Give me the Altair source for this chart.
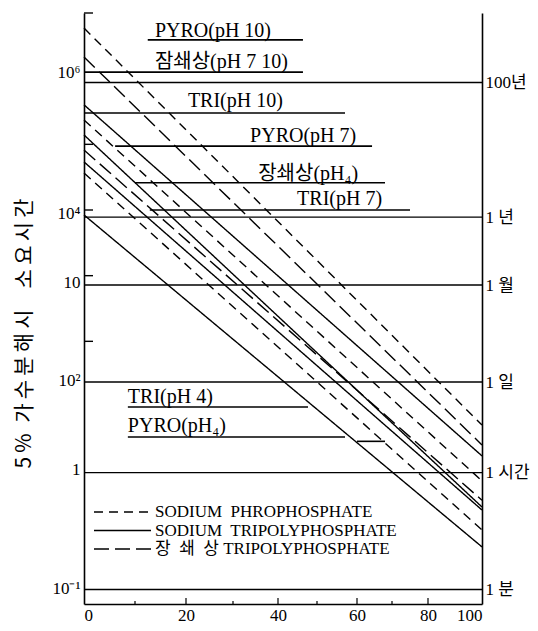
import altair as alt
import pandas as pd
import math

# ---------------- data ----------------
# x axis: temperature (°C); the printed axis is not linear, tick positions read off the picture
x_ticks = [0, 10, 20, 30, 40, 50, 60, 70, 80, 90, 100]
x_tick_px = [0, 51, 102, 149, 194, 233, 273, 308, 344, 371, 398]
x_labels = [0, 20, 40, 60, 80, 100]
x_minor = [10, 30, 50, 70]
x_major = [20, 40, 60, 80]

# hydrolysis lines (hours needed for 5 % hydrolysis) at 0 °C and 100 °C
line_id = ["PYRO10", "LONG7_10", "TRI10", "PYRO7", "TRI_b", "LONG4", "TRI7", "PYRO4", "TRI4"]
line_kind = ["pyro", "long", "tri", "pyro", "tri", "long", "tri", "pyro", "tri"]
line_t0 = [0, 0, 0, 0, 0, 0, 0, 0, 0]
line_t1 = [100, 100, 100, 100, 100, 100, 100, 100, 100]
line_h0 = [5.9e6, 2.14e6, 4.0e5, 2.35e5, 1.39e5, 8.2e4, 5.4e4, 3.66e4, 8.4e3]
line_h1 = [5.3, 2.64, 1.8, 0.75, 0.30, 0.38, 0.27, 0.134, 0.074]

kind_names = ["pyro", "tri", "long"]
kind_text = ["SODIUM\u00a0 PHROPHOSPHATE", "SODIUM\u00a0 TRIPOLYPHOSPHATE",
             "장\u00a0 쇄\u00a0 상 TRIPOLYPHOSPHATE"]
kind_dash = [[9, 6], [1, 0], [15, 6]]

# horizontal reference lines (hours) and right-hand labels
ref_hours = [876000, 7800, 720, 24, 1, 1 / 60]
ref_labels = ["100년", "1 년", "1 월", "1 일", "1 시간", "1 분"]

# left-hand labels as printed
left_vals = [1.22e6, 9000, 775, 25, 1.1, 0.0175]
left_labels = ["10⁶", "10⁴", "10", "10²", "1", "10⁻¹"]
left_stubs = [1e7, 1e5, 1e4, 1e3, 1e2]

# curve labels with their underlines
ann_text = ["PYRO(pH 10)", "잠쇄상(pH 7 10)", "TRI(pH 10)", "PYRO(pH 7)",
            "장쇄상(pH₄)", "TRI(pH 7)", "TRI(pH 4)", "PYRO(pH₄)"]
ann_t = [13.9, 13.9, 20.4, 33.8, 35.6, 44.9, 8.6, 8.6]
ann_h = [4.3e6, 1.46e6, 3.7e5, 1.09e5, 2.86e4, 1.19e4, 11.5, 4.2]
ul_t0 = [12.5, 0, 0, 6.1, 10, 12.9, 8.6, 8.6, 60]
ul_t1 = [46.4, 46.4, 57, 64.3, 68, 75, 47.7, 57, 68]
ul_h = [3.9e6, 1.26e6, 3.0e5, 9.4e4, 2.6e4, 1.0e4, 10, 3.5, 3.0]

# ---------------- tables ----------------
rows = []
for i, lid in enumerate(line_id):
    k = line_kind[i]
    rows.append({"id": lid, "kind": k, "t": line_t0[i], "h": line_h0[i]})
    rows.append({"id": lid, "kind": k, "t": line_t1[i], "h": line_h1[i]})
lines_df = pd.DataFrame(rows)
ref_df = pd.DataFrame({"h": ref_hours, "lab": ref_labels})
ann_df = pd.DataFrame({"txt": ann_text, "t": ann_t, "h": ann_h})
ul_df = pd.DataFrame({"t0": ul_t0, "t1": ul_t1, "h": ul_h})
stub_df = pd.DataFrame({"h": left_stubs})
minor_df = pd.DataFrame({"t": x_minor})
major_df = pd.DataFrame({"t": x_major})

W, H = 398, 591
SERIF = "Liberation Serif"
KFONT = "Liberation Serif, Noto Sans CJK KR"
stroke = "black"

xs = alt.Scale(domain=x_ticks, range=x_tick_px)
ys = alt.Scale(type="log", domain=[0.01, 1e7])


def expr_map(vals, labs):
    e = "''"
    for v, l in zip(vals, labs):
        e = f"abs(log(datum.value)/LN10 - {math.log10(v):.5f}) < 0.01 ? '{l}' : " + e
    return e


x_axis = alt.Axis(values=x_labels, ticks=False, grid=False, title=None,
                  labelFont=SERIF, labelFontSize=17, labelPadding=3,
                  domainColor="black", domainWidth=1.6, labelColor="black")
title_txt = "5\u2009%\u2002가\u2009수\u2009분\u2009해\u2009시\u2003소\u2009요\u2009시\u2009간"
left_axis = alt.Axis(values=left_vals, labelExpr=expr_map(left_vals, left_labels),
                     ticks=False, tickSize=0, grid=False, labelFont=SERIF, labelFontSize=17,
                     labelPadding=4, labelColor="black", domainColor="black", domainWidth=1.6,
                     title=title_txt, titleFont="Noto Sans CJK KR",
                     titleFontSize=21, titleFontWeight="normal", titleColor="black",
                     titleX=-60, titleY=320, titleBaseline="middle")
right_axis = alt.Axis(orient="right", values=ref_hours, labelExpr=expr_map(ref_hours, ref_labels),
                      ticks=False, tickSize=0, grid=False, labelFont=KFONT, labelFontSize=17,
                      labelPadding=3, labelColor="black", domainColor="black", domainWidth=1.6,
                      title=None)

layers = []
for k, d in zip(kind_names, kind_dash):
    sub = lines_df[lines_df["kind"] == k]
    layers.append(
        alt.Chart(sub).mark_line(color=stroke, strokeWidth=1.4, strokeDash=d).encode(
            x=alt.X("t:Q", scale=xs, axis=x_axis),
            y=alt.Y("h:Q", scale=ys, axis=left_axis if k == "pyro" else None),
            detail="id:N",
        )
    )

refs = alt.Chart(ref_df).mark_rule(color=stroke, strokeWidth=1.4).encode(
    y=alt.Y("h:Q", scale=ys, axis=right_axis)
)

ul = alt.Chart(ul_df).mark_rule(color=stroke, strokeWidth=1.6).encode(
    x=alt.X("t0:Q", scale=xs), x2="t1:Q", y=alt.Y("h:Q", scale=ys, axis=None)
)

ann = alt.Chart(ann_df).mark_text(align="left", baseline="alphabetic", font=KFONT,
                                  fontSize=20, color="black").encode(
    x=alt.X("t:Q", scale=xs), y=alt.Y("h:Q", scale=ys, axis=None), text="txt:N"
)

stubs = alt.Chart(stub_df).mark_rule(color=stroke, strokeWidth=1.4).encode(
    y=alt.Y("h:Q", scale=ys, axis=None), x=alt.value(0), x2=alt.value(9)
)
minor = alt.Chart(minor_df).mark_rule(color=stroke, strokeWidth=1.2).encode(
    x=alt.X("t:Q", scale=xs), y=alt.value(H), y2=alt.value(H - 3)
)
major = alt.Chart(major_df).mark_rule(color=stroke, strokeWidth=1.2).encode(
    x=alt.X("t:Q", scale=xs), y=alt.value(H), y2=alt.value(H - 6)
)

# legend drawn inside the plot, like the printed key
leg_layers = []
for i, (txt, d) in enumerate(zip(kind_text, kind_dash)):
    yy = 499 + i * 18.5
    leg_df = pd.DataFrame({"label": [txt]})
    leg_layers.append(
        alt.Chart(leg_df).mark_rule(color=stroke, strokeWidth=1.4, strokeDash=d).encode(
            x=alt.value(10), x2=alt.value(67), y=alt.value(yy)
        )
    )
    leg_layers.append(
        alt.Chart(leg_df).mark_text(align="left", baseline="middle", font=KFONT,
                                    fontSize=17, color="black").encode(
            x=alt.value(71), y=alt.value(yy), text="label:N"
        )
    )

chart = alt.layer(*layers, refs, ul, ann, stubs, minor, major, *leg_layers).resolve_axis(
    y="independent"
).properties(
    width=W, height=H,
    autosize=alt.AutoSizeParams(type="none"),
    padding={"left": 84, "top": 13, "right": 56, "bottom": 27},
    background="white",
).configure_view(stroke=None)

chart.save("out.html", embed_options={"renderer": "svg", "actions": False})
